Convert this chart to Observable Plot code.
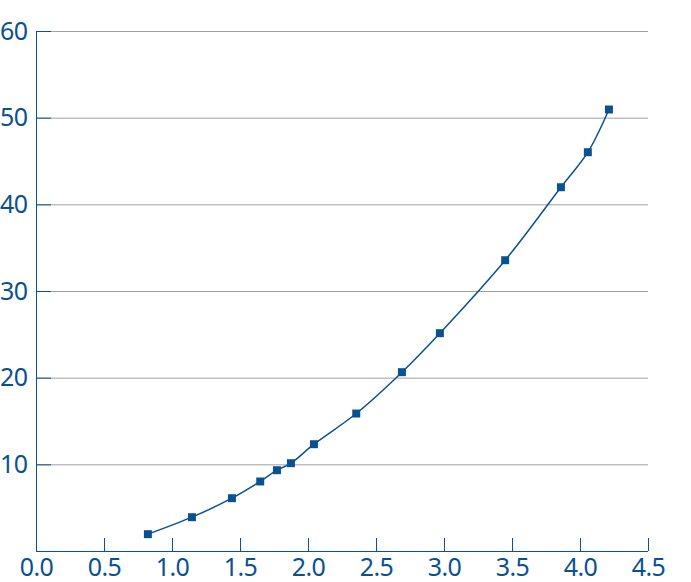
<!DOCTYPE html>
<html><head><meta charset="utf-8">
<script src="https://cdn.jsdelivr.net/npm/d3@7"></script>
<script src="https://cdn.jsdelivr.net/npm/@observablehq/plot@0.6"></script>
<style>body{margin:0;background:#fff} svg text{letter-spacing:-0.6px}</style>
</head><body><div id="chart"></div>
<script>
const xValues = [0.819, 1.143, 1.437, 1.645, 1.768, 1.871, 2.040, 2.351, 2.687, 2.966, 3.446, 3.856, 4.054, 4.209];
const yValues = [2.0, 3.96, 6.15, 8.08, 9.38, 10.19, 12.38, 15.92, 20.69, 25.19, 33.61, 42.03, 46.07, 51.0];
const xTicks = [0, 0.5, 1.0, 1.5, 2.0, 2.5, 3.0, 3.5, 4.0, 4.5];
const yTicks = [10, 20, 30, 40, 50, 60];

const data = xValues.map((x, i) => ({x, y: yValues[i]}));
const blue = "#0b5191";
const font = "'Noto Sans', sans-serif";

const chart = Plot.plot({
  width: 691, height: 582,
  marginLeft: 36, marginRight: 43, marginTop: 31, marginBottom: 31,
  style: {fontFamily: font, fontSize: "25px", color: blue, background: "white", overflow: "visible"},
  x: {domain: [0, 4.5], label: null},
  y: {domain: [0, 60], label: null},
  marks: [
    Plot.gridY(yTicks, {stroke: "#a0a0a0", strokeOpacity: 1, strokeWidth: 1}),
    Plot.ruleX([0], {stroke: blue, strokeWidth: 1}),
    Plot.ruleY([0], {stroke: blue, strokeWidth: 1}),
    Plot.axisX(xTicks, {tickSize: -13, text: null, stroke: blue, label: null}),
    Plot.axisX(xTicks, {tickSize: 0, tickPadding: 7, tickFormat: d => d.toFixed(1), fill: blue, fontSize: 25, label: null}),
    Plot.axisY(yTicks, {anchor: "left", tickSize: -15, text: null, stroke: blue, label: null}),
    Plot.axisY(yTicks, {anchor: "left", tickSize: 0, tickPadding: 9, fill: blue, fontSize: 25, label: null}),
    Plot.line(data, {x: "x", y: "y", curve: "catmull-rom", stroke: blue, strokeWidth: 1.5}),
    Plot.dot(data, {x: "x", y: "y", symbol: "square", r: 4.5, fill: blue, stroke: "none"})
  ]
});
document.getElementById("chart").appendChild(chart);
</script>
</body></html>
